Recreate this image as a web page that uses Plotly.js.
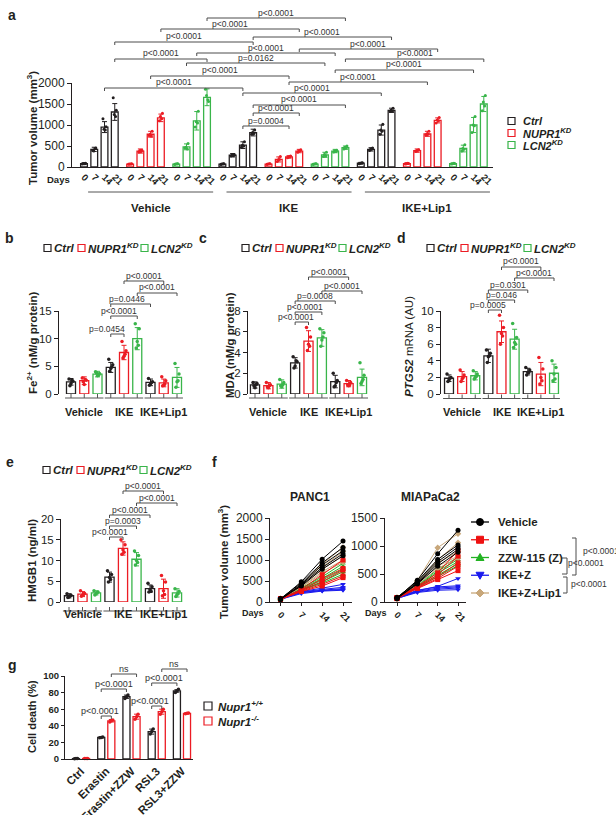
<!DOCTYPE html>
<html>
<head>
<meta charset="utf-8">
<script src="https://cdn.plot.ly/plotly-3.0.1.min.js"></script>
<style>
html, body { margin: 0; padding: 0; background: #fff; }
#fig { width: 616px; height: 815px; }
</style>
</head>
<body>
<div id="fig"></div>
<script>
// ================= data =================
const days = [0, 7, 14, 21];
const treatments = ['Vehicle', 'IKE', 'IKE+Lip1'];
const genotypeNames = ['Ctrl', 'NUPR1<sup>KD</sup>', 'LCN2<sup>KD</sup>'];

// (a) tumor volume (mm3); per genotype: Vehicle d0..d21, IKE d0..d21, IKE+Lip1 d0..d21
const aMeanCtrl  = [80, 420, 950, 1310,  70, 280, 520, 820,  90, 420, 880, 1350];
const aMeanNupr1 = [70, 380, 780, 1170,  70, 180, 240, 380,  80, 390, 790, 1110];
const aMeanLcn2  = [70, 480, 1100, 1660, 70, 290, 380, 460,  80, 440, 1000, 1500];
const aSdCtrl  = [20, 50, 130, 200, 15, 40, 80, 80, 20, 40, 120, 50];
const aSdNupr1 = [15, 50, 70, 90,   15, 60, 30, 40, 20, 40, 60, 60];
const aSdLcn2  = [15, 70, 220, 200, 15, 60, 40, 40, 15, 80, 180, 180];
const aPtsCtrl = [[70,90,85,75],[400,450,380,440],[1150,960,900,880],[1650,1350,1250,1200],
                  [60,75,70,80],[260,300,290,270],[470,600,520,500],[780,880,820,800],
                  [80,100,90,95],[390,450,420,430],[780,1020,880,850],[1320,1400,1350,1330]];
const aPtsNupr1 = [[65,75,70,72],[360,400,390,370],[750,850,780,740],[1100,1280,1200,1150],
                   [60,80,70,75],[130,250,170,180],[220,260,240,245],[350,410,380,390],
                   [70,85,80,90],[370,410,390,400],[760,850,790,780],[1050,1180,1120,1100]];
const aPtsLcn2 = [[60,80,70,75],[450,560,470,430],[950,1330,1080,1050],[1850,1560,1700,1600],
                  [60,75,70,80],[250,350,300,270],[360,400,380,370],[430,500,470,450],
                  [70,85,80,90],[380,530,440,420],[820,1200,1000,980],[1340,1700,1550,1450]];

// (b-e) rows: Ctrl, NUPR1KD, LCN2KD; columns: Vehicle, IKE, IKE+Lip1
const feMean = [[2.2, 4.8, 2.1], [2.4, 7.5, 2.0], [3.6, 10.0, 3.0]];
const feSd   = [[0.6, 0.9, 0.6], [0.7, 1.3, 0.7], [0.5, 2.0, 1.8]];
const fePts  = [[[2.7,2.3,1.9,1.5,2.5],[6.3,5.3,4.6,4.1,4.9],[2.8,2.2,1.8,1.6,2.1]],
                [[2.9,2.5,1.7,2.2,2.6],[9.5,7.8,6.8,6.5,7.2],[3.1,2.4,1.6,1.5,1.8]],
                [[4.0,3.7,3.3,3.8,3.4],[12.7,11.8,9.5,8.3,8.8],[5.5,3.6,2.2,1.2,2.4]]];

const mdaMean = [[0.87, 3.0, 1.2], [0.8, 5.1, 1.0], [0.96, 5.4, 1.6]];
const mdaSd   = [[0.3, 0.5, 0.6], [0.3, 1.0, 0.3], [0.4, 0.8, 0.8]];
const mdaPts  = [[[1.1,1.0,0.6,0.8,0.9],[3.6,3.1,2.7,2.5,3.2],[2.0,1.3,0.8,0.7,1.1]],
                 [[1.1,0.9,0.6,0.7,0.8],[6.4,5.5,4.8,4.2,4.6],[1.3,1.1,0.8,0.9,0.9]],
                 [[1.4,1.1,0.7,0.8,0.9],[6.3,5.9,5.2,4.6,5.5],[3.0,1.8,1.2,1.0,1.4]]];

const ptgsMean = [[1.9, 4.6, 2.7], [2.1, 7.5, 2.4], [2.2, 6.6, 2.5]];
const ptgsSd   = [[0.4, 0.8, 0.4], [0.6, 1.3, 1.4], [0.5, 1.2, 1.1]];
const ptgsPts  = [[[2.4,2.0,1.7,1.5,1.9],[5.3,4.9,4.5,3.8,4.6],[3.2,2.9,2.6,2.3,2.6]],
                  [[2.9,2.3,1.8,1.5,2.0],[9.5,8.0,7.3,6.0,7.0],[4.4,3.0,2.0,1.2,1.6]],
                  [[2.8,2.4,2.0,1.8,2.1],[8.5,6.8,6.2,5.6,6.0],[4.0,3.2,2.4,1.6,1.8]]];

const hmgbMean = [[1.5, 6.0, 3.2], [1.9, 12.9, 3.2], [2.2, 10.3, 2.2]];
const hmgbSd   = [[0.5, 1.2, 0.9], [0.6, 1.6, 2.3], [0.5, 1.6, 1.0]];
const hmgbPts  = [[[2.0,1.6,1.2,1.1,1.5],[7.5,6.6,5.9,4.8,5.4],[4.5,3.7,3.0,2.4,2.6]],
                  [[2.7,2.1,1.7,1.4,1.8],[15.0,13.8,12.6,11.5,12.0],[6.4,4.8,2.7,1.5,1.8]],
                  [[2.7,2.4,2.0,1.7,2.2],[12.3,11.2,10.0,8.9,9.5],[3.2,2.6,1.8,1.3,2.0]]];

// (f) individual tumors, days 0/7/14/21
const fGroups = ['Vehicle', 'IKE', 'ZZW-115 (Z)', 'IKE+Z', 'IKE+Z+Lip1'];
const panc1Vehicle = [[70,480,1020,1450],[80,450,930,1300],[60,420,880,1220],[75,400,820,1150],[65,380,780,1100]];
const panc1Ike     = [[80,300,650,1000],[70,280,550,800],[60,270,480,760],[75,260,420,620],[65,250,380,580]];
const panc1Zzw     = [[70,330,600,920],[75,310,560,850],[60,300,520,780],[80,290,480,720],[65,280,450,660]];
const panc1IkeZ    = [[70,250,330,420],[80,240,300,350],[60,230,280,320],[75,220,270,300],[65,200,260,280]];
const panc1Lip1    = [[70,420,900,1300],[80,400,830,1200],[60,380,780,1100],[75,360,720,1000],[65,350,680,950]];
const miaVehicle = [[70,390,860,1280],[80,370,760,1020],[60,350,720,980],[75,330,680,940],[65,320,640,890]];
const miaIke     = [[80,280,520,920],[70,270,480,820],[60,260,450,700],[75,250,420,640],[65,240,400,560]];
const miaZzw     = [[70,300,580,800],[75,290,550,760],[60,280,520,720],[80,270,480,680],[65,260,460,650]];
const miaIkeZ    = [[70,200,280,420],[80,210,270,290],[60,190,250,270],[75,180,230,250],[65,170,210,220]];
const miaLip1    = [[70,380,970,1220],[80,360,750,1060],[60,340,700,900],[75,320,640,820],[65,300,600,780]];

// (g) cell death (%)
const gCats = ['Ctrl', 'Erastin', 'Erastin+ZZW', 'RSL3', 'RSL3+ZZW'];
const gWtMean = [0.5, 26, 75, 33, 82];
const gWtSd   = [0.2, 0.6, 2, 3, 1.5];
const gKoMean = [0.6, 46, 51, 57, 55];
const gKoSd   = [0.2, 1.5, 3, 3, 0.8];
const gWtPts = [[0.4,0.6,0.5],[25.5,26.5,26],[73,77,75],[30,36,33],[80,84,82]];
const gKoPts = [[0.5,0.7,0.6],[44.5,47,46.5],[48,54,51],[54,60,57],[54.5,55.5,55]];

// ================= styling helpers =================
const W = 616, H = 815;
const FONT = 'Liberation Sans, Arial, Helvetica, sans-serif';
const INK = '#231f20';
const GRAY = '#4d4d4d';
const genoColors = ['#231f20', '#ec1c24', '#39b54a'];
const fColors = ['#000000', '#ee1111', '#22b322', '#1a1aee', '#c8a77a'];
const fSymbols = ['circle', 'square', 'triangle-up', 'triangle-down', 'diamond'];
const px = v => v / W;
const py = v => 1 - v / H;
const P = (x, y) => px(x) + ',' + py(y);

const traces = [];
const shapes = [];
const annotations = [];
const layout = {
  width: W, height: H, margin: {l: 0, r: 0, t: 0, b: 0},
  paper_bgcolor: '#fff', plot_bgcolor: 'rgba(0,0,0,0)',
  font: {family: FONT, color: INK, size: 11},
  showlegend: false, barmode: 'overlay',
  shapes, annotations
};

const sfx = n => (n === 1 ? '' : String(n));

// pixel placement of a panel: domain edges plus two reference pixels for the scale
function rangeFor(d0, d1, p0, v0, p1, v1) {
  const k = (v1 - v0) / (p1 - p0);
  return [v0 + (d0 - p0) * k, v0 + (d1 - p0) * k];
}

function setAxes(n, xd, xr, yd, yr, xo, yo) {
  const s = sfx(n);
  layout['xaxis' + s] = Object.assign({
    domain: [px(xd[0]), px(xd[1])], range: xr, anchor: 'y' + s,
    showgrid: false, zeroline: false, showline: false, ticks: '', showticklabels: false,
    fixedrange: true
  }, xo || {});
  layout['yaxis' + s] = Object.assign({
    domain: [py(yd[0]), py(yd[1])], range: yr, anchor: 'x' + s,
    showgrid: false, zeroline: false, showline: true, linecolor: INK, linewidth: 1,
    ticks: 'outside', ticklen: 4, tickwidth: 1, tickcolor: INK,
    tickfont: {size: 11.5, color: INK}, fixedrange: true
  }, yo || {});
}

function txt(x, y, text, size, opts) {
  return Object.assign({
    xref: 'paper', yref: 'paper', x: px(x), y: py(y), text, showarrow: false,
    xanchor: 'center', yanchor: 'middle', font: {size, color: INK, family: FONT}
  }, opts || {});
}

function spread(positions, sets, offsets) {
  const xs = [], ys = [];
  sets.forEach((set, i) => set.forEach((v, j) => {
    xs.push(positions[i] + offsets[j % offsets.length]);
    ys.push(v);
  }));
  return {xs, ys};
}

function barTrace(n, xs, ys, sd, col, width) {
  return {
    type: 'bar', xaxis: 'x' + sfx(n), yaxis: 'y' + sfx(n), x: xs, y: ys, width,
    marker: {color: 'rgba(255,255,255,0)', line: {color: col, width: 1.3}},
    error_y: {type: 'data', array: sd, visible: true, color: col, thickness: 1, width: 2.5},
    hoverinfo: 'skip'
  };
}

function dotTrace(n, p, col, size) {
  return {
    type: 'scatter', mode: 'markers', xaxis: 'x' + sfx(n), yaxis: 'y' + sfx(n),
    x: p.xs, y: p.ys, marker: {size: size || 3.5, color: col}, cliponaxis: false, hoverinfo: 'skip'
  };
}

// significance bracket: ends at data positions x1,x2; line height in pixels
function bracket(n, x1, x2, yLine, label, shift, size) {
  const xa = 'x' + sfx(n);
  shapes.push({
    type: 'path', xref: xa, yref: 'paper',
    path: `M${x1},${py(yLine + 3)} L${x1},${py(yLine)} L${x2},${py(yLine)} L${x2},${py(yLine + 3)}`,
    line: {color: GRAY, width: 1}
  });
  annotations.push({
    xref: xa, yref: 'paper', x: (x1 + x2) / 2 + (shift || 0), y: py(yLine - 5.5),
    text: label, showarrow: false, xanchor: 'center', yanchor: 'middle',
    font: {size: size || 8.5, color: '#333', family: FONT}
  });
}

function legendRow(x0, y) {
  const offs = [0, 34, 97];
  genoColors.forEach((col, k) => {
    const x = x0 + offs[k];
    shapes.push({type: 'rect', xref: 'paper', yref: 'paper', x0: px(x), x1: px(x + 7),
      y0: py(y + 3.5), y1: py(y - 3.5), line: {color: col, width: 1.2}, fillcolor: 'rgba(0,0,0,0)'});
    annotations.push(txt(x + 8, y, '<b><i>' + genotypeNames[k] + '</i></b>', 11.5, {xanchor: 'left'}));
  });
}

// ================= (a) tumor volume bars =================
const aMeans = [aMeanCtrl, aMeanNupr1, aMeanLcn2];
const aSds = [aSdCtrl, aSdNupr1, aSdLcn2];
const aPts = [aPtsCtrl, aPtsNupr1, aPtsLcn2];
const aPos = k => treatments.flatMap((_, t) => days.map((_, d) => (t * 3 + k) * 4.5 + d));
const aTickVals = [], aTickText = [];
genoColors.forEach((col, k) => {
  const xs = aPos(k);
  traces.push(barTrace(1, xs, aMeans[k], aSds[k], col, 0.66));
  traces.push(dotTrace(1, spread(xs, aPts[k], [-0.15, 0.15, -0.05, 0.08]), col, 3));
  xs.forEach((x, i) => { aTickVals.push(x); aTickText.push('<b>' + days[i % 4] + '</b>'); });
});
setAxes(1, [72, 493], rangeFor(72, 493, 84, 0, 483.8, 39), [167, 83], [0, 2000],
  {showline: true, linecolor: INK, linewidth: 1, showticklabels: true, tickvals: aTickVals,
   ticktext: aTickText, tickangle: 45, tickfont: {size: 9.5, color: INK}},
  {tickvals: [0, 500, 1000, 1500, 2000], tickfont: {size: 12, color: INK}});
annotations.push(txt(12, 15, '<b>a</b>', 14));
annotations.push(txt(32, 128, '<b>Tumor volume (mm<sup>3</sup>)</b>', 11.5, {textangle: -90}));
annotations.push(txt(58, 179, '<b>Days</b>', 9.5, {borderpad: 0}));
treatments.forEach((name, t) => {
  const a0 = t * 13.5 + 0.4, a1 = t * 13.5 + 12.6;
  shapes.push({type: 'line', xref: 'x', yref: 'paper', x0: a0, x1: a1, y0: py(192), y1: py(192),
    line: {color: '#555', width: 1}});
  annotations.push({xref: 'x', yref: 'paper', x: (a0 + a1) / 2, y: py(200), text: '<b>' + name + '</b>',
    showarrow: false, font: {size: 11.5, color: INK, family: FONT}});
});
// legend (a)
genoColors.forEach((col, k) => {
  const y = 121 + k * 12;
  shapes.push({type: 'rect', xref: 'paper', yref: 'paper', x0: px(508), x1: px(515),
    y0: py(y + 3.5), y1: py(y - 3.5), line: {color: col, width: 1.2}, fillcolor: 'rgba(0,0,0,0)'});
  annotations.push(txt(522, y, '<b><i>' + genotypeNames[k] + '</i></b>', 11, {xanchor: 'left', borderpad: 0}));
});
// comparison brackets (a): bar index u = group*4.5 + day
const aBr = [
  [12, 25.5, 18, 'p<0.0001'], [7.5, 21, 29, 'p<0.0001'], [16.5, 30, 37, 'p<0.0001'],
  [3, 16.5, 42, 'p<0.0001'], [21, 34.5, 49, 'p<0.0001'], [11, 24.5, 53, 'p<0.0001'],
  [3, 12, 59, 'p<0.0001'], [25.5, 39, 59, 'p<0.0001'], [10, 23.5, 63, 'p=0.0162'],
  [24.5, 38, 70, 'p<0.0001'], [6.5, 20, 76, 'p<0.0001'], [20, 33.5, 82, 'p<0.0001'],
  [2, 15.5, 88, 'p<0.0001'], [15.5, 29, 93, 'p<0.0001'], [16.5, 25.5, 105, 'p<0.0001'],
  [16.5, 21, 113, 'p<0.0001'], [15.5, 20, 126, 'p=0.0004']
];
aBr.forEach(b => bracket(1, b[0], b[1], b[2], b[3]));

// ================= (b)-(e) grouped bar panels =================
function groupedPanel(n, means, sds, pts) {
  genoColors.forEach((col, k) => {
    const xs = treatments.map((_, t) => t * 3 + k);
    traces.push(barTrace(n, xs, means[k], sds[k], col, 0.68));
    traces.push(dotTrace(n, spread(xs, pts[k], [-0.15, 0.15, 0, -0.08, 0.08]), col, 3.5));
  });
}
function groupAxis(n, lineY, labelY) {
  const xa = 'x' + sfx(n);
  treatments.forEach((name, t) => {
    shapes.push({type: 'line', xref: xa, yref: 'paper', x0: t * 3 - 0.45, x1: t * 3 + 2.45,
      y0: py(lineY), y1: py(lineY), line: {color: '#555', width: 1}});
    for (let k = 0; k < 3; k++) {
      shapes.push({type: 'line', xref: xa, yref: 'paper', x0: t * 3 + k, x1: t * 3 + k,
        y0: py(lineY), y1: py(lineY - 4), line: {color: '#555', width: 1}});
    }
    annotations.push({xref: xa, yref: 'paper', x: t * 3 + 1, y: py(labelY), text: '<b>' + name + '</b>',
      showarrow: false, font: {size: 11, color: INK, family: FONT}});
  });
}

// (b) Fe2+
groupedPanel(2, feMean, feSd, fePts);
setAxes(2, [59, 187], rangeFor(59, 187, 71, 0, 177, 8), [394, 311], [0, 15], null, {tickvals: [0, 5, 10, 15]});
groupAxis(2, 398, 412);
annotations.push(txt(9, 238, '<b>b</b>', 14));
annotations.push(txt(32, 343, '<b>Fe<sup>2+</sup> (nM/g protein)</b>', 11.5, {textangle: -90}));
legendRow(44, 248);
bracket(2, 4, 7, 281, 'p<0.0001');
bracket(2, 5, 8, 293, 'p<0.0001');
bracket(2, 3, 6, 304, 'p=0.0446', -0.3);
bracket(2, 3, 5, 316, 'p<0.0001', -0.35);
bracket(2, 3, 4, 334, 'p=0.0454', -0.8);

// (c) MDA
groupedPanel(3, mdaMean, mdaSd, mdaPts);
setAxes(3, [248, 370], rangeFor(248, 370, 255, 0, 362, 8), [394, 311], [0, 8], null, {tickvals: [0, 2, 4, 6, 8]});
groupAxis(3, 398, 412);
annotations.push(txt(203, 238, '<b>c</b>', 14));
annotations.push(txt(230, 345, '<b>MDA (nM/g protein)</b>', 11.5, {textangle: -90}));
legendRow(242, 248);
bracket(3, 4, 7, 277, 'p<0.0001');
bracket(3, 5, 8, 291, 'p<0.0001');
bracket(3, 3, 6, 301, 'p=0.0008');
bracket(3, 3, 5, 312, 'p<0.0001', -0.25);
bracket(3, 3, 4, 322, 'p<0.0001', -0.45);

// (d) PTGS2
groupedPanel(4, ptgsMean, ptgsSd, ptgsPts);
setAxes(4, [441, 562], rangeFor(441, 562, 449, 0, 554, 8), [394, 311], [0, 10], null, {tickvals: [0, 2, 4, 6, 8, 10]});
groupAxis(4, 398.5, 412);
annotations.push(txt(401, 238, '<b>d</b>', 14));
annotations.push(txt(409, 347, '<b><i>PTGS2</i></b> mRNA (AU)', 11.5, {textangle: -90}));
legendRow(427, 248);
bracket(4, 4, 7, 267, 'p<0.0001');
bracket(4, 5, 8, 278, 'p<0.0001');
bracket(4, 3, 6, 290, 'p=0.0301');
bracket(4, 3, 5, 300, 'p=0.046');
bracket(4, 3, 4, 310, 'p=0.0005', -0.55);

// (e) HMGB1
groupedPanel(5, hmgbMean, hmgbSd, hmgbPts);
setAxes(5, [61, 186], rangeFor(61, 186, 69, 0, 177, 8), [602, 519], [0, 20], null, {tickvals: [0, 5, 10, 15, 20]});
groupAxis(5, 611, 622);
annotations.push(txt(10, 462, '<b>e</b>', 14));
annotations.push(txt(32, 561, '<b>HMGB1 (ng/ml)</b>', 11.5, {textangle: -90}));
legendRow(43, 470);
bracket(5, 4, 7, 491, 'p<0.0001');
bracket(5, 5, 8, 503, 'p<0.0001');
bracket(5, 3, 6, 515, 'p<0.0001');
bracket(5, 3, 5, 526, 'p=0.0003');
bracket(5, 3, 4, 537, 'p<0.0001', -0.45);

// ================= (f) growth curves =================
function growthPanel(n, sets) {
  // drawing order keeps the vehicle curves on top
  [2, 3, 4, 1, 0].forEach(g => {
    sets[g].forEach(series => {
      traces.push({
        type: 'scatter', mode: 'lines+markers', xaxis: 'x' + sfx(n), yaxis: 'y' + sfx(n),
        x: days, y: series, line: {color: fColors[g], width: 1},
        marker: {color: fColors[g], size: 5, symbol: fSymbols[g]}, cliponaxis: false, hoverinfo: 'skip'
      });
    });
  });
}
const fx = {showline: true, linecolor: INK, linewidth: 1, ticks: 'outside', ticklen: 3, tickwidth: 1,
  tickcolor: INK, showticklabels: true, tickvals: days, ticktext: days.map(d => '<b>' + d + '</b>'),
  tickangle: 45, tickfont: {size: 9, color: INK}};
growthPanel(6, [panc1Vehicle, panc1Ike, panc1Zzw, panc1IkeZ, panc1Lip1]);
setAxes(6, [270, 352], rangeFor(270, 352, 280.5, 0, 343, 21), [602, 518], [0, 2000], fx,
  {tickvals: [0, 500, 1000, 1500, 2000], tickfont: {size: 12, color: INK}});
growthPanel(7, [miaVehicle, miaIke, miaZzw, miaIkeZ, miaLip1]);
setAxes(7, [385, 466], rangeFor(385, 466, 397, 0, 458, 21), [602, 518], [0, 1500], fx,
  {tickvals: [0, 500, 1000, 1500], tickfont: {size: 12, color: INK}});
annotations.push(txt(214, 462, '<b>f</b>', 14));
annotations.push(txt(310, 497, '<b>PANC1</b>', 12));
annotations.push(txt(430, 497, '<b>MIAPaCa2</b>', 12));
annotations.push(txt(223, 562, '<b>Tumor volume (mm<sup>3</sup>)</b>', 11.5, {textangle: -90}));
annotations.push(txt(253, 613, '<b>Days</b>', 9));
annotations.push(txt(376, 613, '<b>Days</b>', 9));
// legend (f)
fGroups.forEach((name, g) => {
  const y = 522 + g * 17.75, col = fColors[g];
  shapes.push({type: 'line', xref: 'paper', yref: 'paper', x0: px(471), x1: px(489), y0: py(y), y1: py(y),
    line: {color: col, width: 1.3}});
  let mk;
  if (g === 0) mk = {type: 'circle', x0: px(476.5), x1: px(483.5), y0: py(y + 3.5), y1: py(y - 3.5)};
  else if (g === 1) mk = {type: 'rect', x0: px(476.5), x1: px(483.5), y0: py(y + 3.5), y1: py(y - 3.5)};
  else if (g === 2) mk = {type: 'path', path: `M${P(480, y - 4)} L${P(484, y + 3)} L${P(476, y + 3)} Z`};
  else if (g === 3) mk = {type: 'path', path: `M${P(480, y + 4)} L${P(484, y - 3)} L${P(476, y - 3)} Z`};
  else mk = {type: 'path', path: `M${P(480, y - 4)} L${P(484, y)} L${P(480, y + 4)} L${P(476, y)} Z`};
  shapes.push(Object.assign({xref: 'paper', yref: 'paper', fillcolor: col, line: {color: col, width: 1}}, mk));
  annotations.push(txt(496, y, '<b>' + name + '</b>', 11.5, {xanchor: 'left'}));
});
[[572, 576, 538, 575], [562, 567, 558, 574], [563, 567, 577, 593]].forEach(b => {
  shapes.push({type: 'path', xref: 'paper', yref: 'paper',
    path: `M${P(b[0], b[2])} L${P(b[1], b[2])} L${P(b[1], b[3])} L${P(b[0], b[3])}`,
    line: {color: GRAY, width: 1}});
});
annotations.push(txt(581, 551, 'p<0.0001', 8.5, {xanchor: 'left', font: {size: 8.5, color: '#333', family: FONT}}));
annotations.push(txt(566, 563, 'p<0.0001', 8.5, {xanchor: 'left', font: {size: 8.5, color: '#333', family: FONT}}));
annotations.push(txt(569, 584, 'p<0.0001', 8.5, {xanchor: 'left', font: {size: 8.5, color: '#333', family: FONT}}));

// ================= (g) cell death =================
const gWtPos = gCats.map((_, t) => t * 2.5);
const gKoPos = gCats.map((_, t) => t * 2.5 + 1);
traces.push(barTrace(8, gWtPos, gWtMean, gWtSd, genoColors[0], 0.7));
traces.push(dotTrace(8, spread(gWtPos, gWtPts, [-0.15, 0.15, 0]), genoColors[0], 3.5));
traces.push(barTrace(8, gKoPos, gKoMean, gKoSd, genoColors[1], 0.7));
traces.push(dotTrace(8, spread(gKoPos, gKoPts, [-0.15, 0.15, 0]), genoColors[1], 3.5));
setAxes(8, [65, 193], rangeFor(65, 193, 76, 0, 187, 11), [759, 676], [0, 100],
  {showline: true, linecolor: INK, linewidth: 1, showticklabels: true,
   tickvals: gCats.map((_, t) => t * 2.5 + 0.5), ticktext: gCats.map(c => '<b>' + c + '</b>'),
   tickangle: -45, tickfont: {size: 11.5, color: INK}},
  {tickvals: [0, 20, 40, 60, 80, 100], ticktext: ['<b>0</b>', '<b>20</b>', '<b>40</b>', '<b>60</b>', '<b>80</b>', '<b>100</b>'],
   tickfont: {size: 9.5, color: INK}, ticklen: 3});
annotations.push(txt(12, 665, '<b>g</b>', 14));
annotations.push(txt(32, 717, '<b>Cell death (%)</b>', 11, {textangle: -90}));
bracket(8, 3.5, 6, 674, 'ns', 0, 9);
bracket(8, 2.5, 5, 689, 'p<0.0001', 0, 9);
bracket(8, 2.5, 3.5, 716, 'p<0.0001', -0.6, 9);
bracket(8, 8.5, 11, 669, 'ns', 0, 9);
bracket(8, 7.5, 10, 683, 'p<0.0001', 0, 9);
bracket(8, 7.5, 8.5, 706, 'p<0.0001', -0.7, 9);
['Nupr1<sup>+/+</sup>', 'Nupr1<sup>-/-</sup>'].forEach((name, k) => {
  const y = 706 + k * 15, col = genoColors[k];
  shapes.push({type: 'rect', xref: 'paper', yref: 'paper', x0: px(204), x1: px(212),
    y0: py(y + 4), y1: py(y - 4), line: {color: col, width: 1.2}, fillcolor: 'rgba(0,0,0,0)'});
  annotations.push(txt(216, y, '<b><i>' + name + '</i></b>', 11.5, {xanchor: 'left'}));
});

Plotly.newPlot('fig', traces, layout, {staticPlot: true, displayModeBar: false});
</script>
</body>
</html>
